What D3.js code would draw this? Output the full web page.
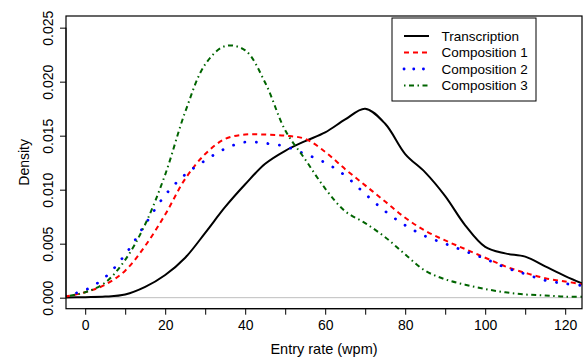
<!DOCTYPE html>
<html>
<head>
<meta charset="utf-8">
<script src="https://cdn.jsdelivr.net/npm/d3@7"></script>
<style>
  html, body { margin: 0; padding: 0; background: #fff; }
  svg { display: block; font-family: "Liberation Sans", Arial, sans-serif; }
</style>
</head>
<body>
<svg id="chart" width="584" height="360"></svg>
<script>
// ---- data ----
const wpm = [-5, 0, 5, 10, 15, 20, 25, 30, 35, 40, 45, 50, 55, 60, 65, 70, 75, 80, 85, 90, 95, 100, 105, 110, 115, 120, 125];
const transcription = [0.00002, 0.00005, 0.0001, 0.0003, 0.0010, 0.0021, 0.0037, 0.0060, 0.0084, 0.0105, 0.0124, 0.0136, 0.0145, 0.0153, 0.0165, 0.0175, 0.0161, 0.0133, 0.0116, 0.0094, 0.0067, 0.0047, 0.0041, 0.0038, 0.0029, 0.0020, 0.0012];
const composition1 = [0.0001, 0.0005, 0.0012, 0.0025, 0.0048, 0.0077, 0.0110, 0.0133, 0.0147, 0.0151, 0.0151, 0.0150, 0.0147, 0.0135, 0.0119, 0.0104, 0.0089, 0.0074, 0.0062, 0.0053, 0.0045, 0.0037, 0.0029, 0.0023, 0.0018, 0.0015, 0.0012];
const composition2 = [0.0002, 0.0007, 0.0019, 0.0040, 0.0068, 0.0095, 0.0114, 0.0127, 0.0138, 0.0144, 0.0143, 0.0140, 0.0133, 0.0125, 0.0113, 0.0096, 0.0080, 0.0067, 0.0057, 0.0050, 0.0043, 0.0036, 0.0028, 0.0022, 0.0016, 0.0013, 0.0011];
const composition3 = [0.0001, 0.0005, 0.0014, 0.0035, 0.0068, 0.0114, 0.0172, 0.0216, 0.0233, 0.0229, 0.0199, 0.0155, 0.0128, 0.0101, 0.0080, 0.0069, 0.0056, 0.0040, 0.0025, 0.0017, 0.0012, 0.0008, 0.0005, 0.0003, 0.0002, 0.0001, 0.0001];
const seriesNames = ["Transcription", "Composition 1", "Composition 2", "Composition 3"];
const xTicks = [0, 10, 20, 30, 40, 50, 60, 70, 80, 90, 100, 110, 120];
const xTickLabels = [0, 20, 40, 60, 80, 100, 120];
const yTicks = [0, 0.005, 0.010, 0.015, 0.020, 0.025];
const xLabel = "Entry rate (wpm)";
const yLabel = "Density";

// ---- styling ----
const styles = [
  { color: "#000000", dash: null, width: 2, legDash: null },
  { color: "#FF0000", dash: "5,4", width: 2, legDash: "5,4" },
  { color: "#0000FF", dash: "0.1,11.5", width: 2.8, cap: "round", legDash: "0.1,9.6" },
  { color: "#006400", dash: "1.5,3.5,5,3.5", width: 2, legDash: "1.5,3.5,5,3.5" }
];
const seriesValues = [transcription, composition1, composition2, composition3];

const svg = d3.select("#chart");
const L = 66, R = 582, T = 16, B = 308.7;

const x = d3.scaleLinear().domain([-4.8, 124.2]).range([L, R]);
const y = d3.scaleLinear().domain([-0.00102, 0.02608]).range([B, T]);

svg.append("defs").append("clipPath").attr("id", "clip")
  .append("rect").attr("x", L).attr("y", T).attr("width", R - L).attr("height", B - T);

// zero line
svg.append("line")
  .attr("x1", L).attr("x2", R).attr("y1", y(0)).attr("y2", y(0))
  .attr("stroke", "#bebebe").attr("stroke-width", 1);

// curves
const g = svg.append("g").attr("clip-path", "url(#clip)");
const line = d3.line().x(d => x(d[0])).y(d => y(d[1])).curve(d3.curveCatmullRom.alpha(0.5));
seriesValues.forEach((vals, i) => {
  const pts = wpm.map((w, j) => [w, vals[j]]);
  const s = styles[i];
  g.append("path")
    .attr("d", line(pts))
    .attr("fill", "none")
    .attr("stroke", s.color)
    .attr("stroke-width", s.width)
    .attr("stroke-dasharray", s.dash)
    .attr("stroke-linecap", s.cap || "butt")
    .attr("stroke-linejoin", "round");
});

// box
svg.append("rect")
  .attr("x", L).attr("y", T).attr("width", R - L).attr("height", B - T)
  .attr("fill", "none").attr("stroke", "#000").attr("stroke-width", 1.2);

// x axis
const xAxis = d3.axisBottom(x).tickValues(xTicks).tickSize(6).tickSizeOuter(0)
  .tickFormat(d => xTickLabels.includes(d) ? String(d) : "");
const gx = svg.append("g").attr("transform", `translate(0,${B})`).call(xAxis);
gx.select(".domain").attr("d", `M${x(0)},0H${x(120)}`).attr("stroke", "#000");
gx.selectAll(".tick line").attr("stroke", "#000");
gx.selectAll("text").attr("font-size", 14).attr("fill", "#000").attr("dy", null).attr("y", 21.5)
  .attr("font-family", "Liberation Sans, Arial, sans-serif");

// y axis
const yAxis = d3.axisLeft(y).tickValues(yTicks).tickSize(6).tickSizeOuter(0).tickFormat(d3.format(".3f"));
const gy = svg.append("g").attr("transform", `translate(${L},0)`).call(yAxis);
gy.select(".domain").attr("d", `M0,${y(0)}V${y(0.025)}`).attr("stroke", "#000");
gy.selectAll(".tick line").attr("stroke", "#000");
gy.selectAll(".tick text")
  .attr("font-size", 14).attr("fill", "#000")
  .attr("font-family", "Liberation Sans, Arial, sans-serif")
  .attr("x", null).attr("dy", null)
  .attr("text-anchor", "middle")
  .attr("transform", "translate(-13,0) rotate(-90)");

// axis titles
svg.append("text").attr("x", (L + R) / 2).attr("y", 354)
  .attr("text-anchor", "middle").attr("font-size", 14.5).attr("fill", "#000").text(xLabel);
svg.append("text").attr("transform", `translate(28.5,${(T + B) / 2}) rotate(-90)`)
  .attr("text-anchor", "middle").attr("font-size", 14).attr("fill", "#000").text(yLabel);

// legend
const lg = svg.append("g");
const legL = 392, legR = 536, legT = 18, legB = 101;
lg.append("rect").attr("x", legL).attr("y", legT).attr("width", legR - legL).attr("height", legB - legT)
  .attr("fill", "#fff").attr("stroke", "#000").attr("stroke-width", 1);
const rowY = [36, 52.5, 69, 85.5];
seriesNames.forEach((name, i) => {
  const s = styles[i];
  lg.append("line").attr("x1", 404).attr("x2", 429).attr("y1", rowY[i]).attr("y2", rowY[i])
    .attr("stroke", s.color).attr("stroke-width", s.width)
    .attr("stroke-dasharray", s.legDash).attr("stroke-linecap", s.cap || "butt");
  lg.append("text").attr("x", 441.5).attr("y", rowY[i] + 4.8)
    .attr("font-size", 13.5).attr("fill", "#000").text(name);
});
</script>
</body>
</html>
